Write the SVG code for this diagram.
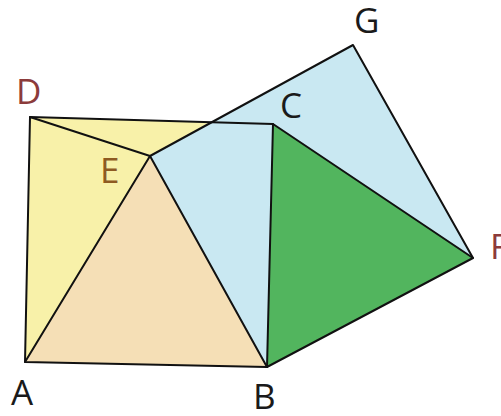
<svg xmlns="http://www.w3.org/2000/svg" width="501" height="416" viewBox="0 0 501 416">
<style>
.e{fill:none;stroke:#111;stroke-width:2;stroke-linejoin:round;stroke-linecap:round}
.t{font-family:"Open Sans","Liberation Sans",sans-serif;font-size:35px}
.k{fill:#1a1a1a}
.r{fill:#8c3b3b}
.o{fill:#8e5a22}
</style>
<rect width="501" height="416" fill="#ffffff"/>
<g id="fills">
<polygon points="150,156 353,45 473,258 267,367" fill="#c9e8f2"/>
<polygon points="25,362 30,117 210,122 150,156" fill="#f8f1a9"/>
<polygon points="25,362 150,156 267,367" fill="#f5dfb6"/>
<polygon points="273,124 267,367 473,258" fill="#52b55e"/>
</g>
<g id="edges">
<polygon class="e" points="25,362 267,367 273,124 30,117"/>
<polyline class="e" points="25,362 150,156 267,367"/>
<line class="e" x1="30" y1="117" x2="150" y2="156"/>
<polyline class="e" points="150,156 353,45 473,258 267,367"/>
<line class="e" x1="273" y1="124" x2="473" y2="258"/>
</g>
<g id="labels">
<text class="t r" x="16" y="104">D</text>
<text class="t o" x="100" y="183">E</text>
<text class="t k" x="280" y="118">C</text>
<text class="t k" x="354" y="33">G</text>
<text class="t r" x="490" y="259">F</text>
<text class="t k" x="11" y="405">A</text>
<text class="t k" x="253" y="409">B</text>
</g>
</svg>
